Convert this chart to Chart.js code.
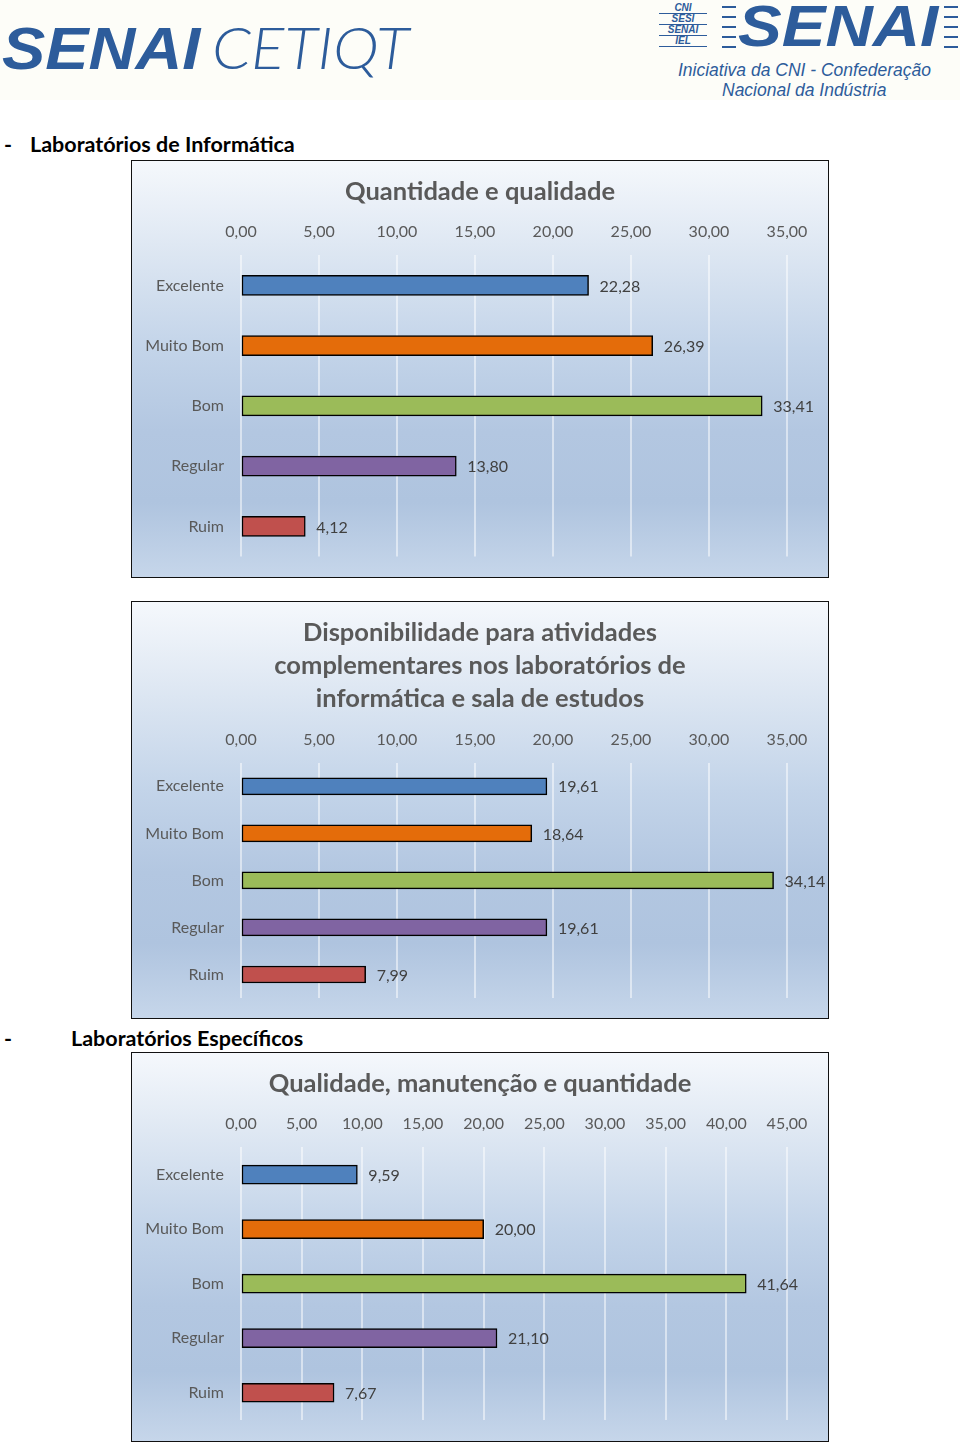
<!DOCTYPE html>
<html>
<head>
<meta charset="utf-8">
<script src="https://cdn.jsdelivr.net/npm/chart.js@4.4.1/dist/chart.umd.min.js"></script>
<style>
  html, body { margin:0; padding:0; background:#ffffff; }
  body { width:960px; height:1443px; position:relative; overflow:hidden; font-family: Lato, "Open Sans", sans-serif; }
  .abs { position:absolute; white-space:nowrap; }
  .header { position:absolute; left:0; top:0; width:960px; height:100px; background:#fdfdf8; }
  .logo { color:#2d5c9b; font-family:"Liberation Sans", Arial, sans-serif; }
  .panel { position:absolute; left:131px; width:698px; box-sizing:border-box; border:1.5px solid #111;
    background: linear-gradient(to bottom, #f5f8fc 0%, #dfe8f3 20%, #c3d4e9 45%, #b3c7e1 65%, #afc4df 82%, #c6d6ea 100%); }
  .panel canvas { display:block; }
  .heading { font-family: Lato, "Open Sans", sans-serif; font-weight:700; font-size:21.5px; color:#000; line-height:24px; }
</style>
</head>
<body>
<div class="header"></div>
<!-- Left logo -->
<div class="abs logo" style="left:2px; top:20px; font-size:59px; line-height:59px; font-weight:700; font-style:italic; transform:scaleX(1.1); transform-origin:left top;">SENAI</div>
<div class="abs logo" style="left:212px; top:18px; font-size:58px; line-height:58px; font-weight:300; font-style:italic; font-family:Lato, sans-serif; transform:scaleX(1.07); transform-origin:left top;">CETIQT</div>
<!-- Right logo -->
<div class="abs logo" style="left:659px; top:3px; width:48px; font-size:10px; line-height:10px; font-weight:700; font-style:italic; text-align:center;">
  <div style="border-bottom:1.5px solid #2d5c9b;">CNI</div>
  <div style="border-bottom:1.5px solid #2d5c9b;">SESI</div>
  <div style="border-bottom:1.5px solid #2d5c9b;">SENAI</div>
  <div style="border-bottom:1.5px solid #2d5c9b;">IEL</div>
</div>
<div class="abs" style="left:722px; top:6px; width:14px; height:42px; background:repeating-linear-gradient(to bottom, #2d5c9b 0 2px, transparent 2px 10px);"></div>
<div class="abs" style="left:944px; top:6px; width:14px; height:42px; background:repeating-linear-gradient(to bottom, #2d5c9b 0 2px, transparent 2px 10px);"></div>
<div class="abs logo" style="left:738px; top:-2px; font-size:57px; line-height:57px; font-weight:700; font-style:italic; transform:scaleX(1.15); transform-origin:left top;">SENAI</div>
<div class="abs logo" style="left:678px; top:60px; font-size:17.5px; line-height:20px; font-style:italic;">Iniciativa da CNI - Confederação</div>
<div class="abs logo" style="left:722px; top:80px; font-size:17.5px; line-height:20px; font-style:italic;">Nacional da Indústria</div>

<!-- Section headings -->
<div class="abs heading" style="left:4px; top:132px;">-</div>
<div class="abs heading" style="left:30px; top:132px;">Laboratórios de Informática</div>
<div class="abs heading" style="left:4px; top:1026px;">-</div>
<div class="abs heading" style="left:71px; top:1026px;">Laboratórios Específicos</div>

<div class="panel" style="top:160px; height:418px;"><canvas id="c1"></canvas></div>
<div class="panel" style="top:601px; height:418px;"><canvas id="c2"></canvas></div>
<div class="panel" style="top:1052px; height:390px;"><canvas id="c3"></canvas></div>

<script>
// ---- Data ----
const categories = ['Excelente', 'Muito Bom', 'Bom', 'Regular', 'Ruim'];
const qualidadeValues = [22.28, 26.39, 33.41, 13.80, 4.12];
const disponibilidadeValues = [19.61, 18.64, 34.14, 19.61, 7.99];
const especificosValues = [9.59, 20.00, 41.64, 21.10, 7.67];
const title1 = 'Quantidade e qualidade';
const title2 = ['Disponibilidade para atividades', 'complementares nos laboratórios de', 'informática e sala de estudos'];
const title3 = 'Qualidade, manutenção e quantidade';
const axisMax1 = 35, axisMax2 = 35, axisMax3 = 45;
const axisStep = 5;
const barColors = ['#4f81bd', '#e46c0a', '#9bbb59', '#8064a2', '#c0504d'];

const fmt = v => Number(v).toFixed(2).replace('.', ',');
Chart.defaults.font.family = 'Lato, "Open Sans", sans-serif';

const valueLabels = {
  id: 'valueLabels',
  afterDatasetsDraw(chart) {
    const ctx = chart.ctx;
    ctx.save();
    ctx.font = '16px Lato, "Open Sans", sans-serif';
    ctx.fillStyle = '#404040';
    ctx.textAlign = 'left';
    ctx.textBaseline = 'middle';
    chart.data.datasets.forEach((ds, di) => {
      chart.getDatasetMeta(di).data.forEach((el, i) => {
        ctx.fillText(fmt(ds.data[i]), el.x + 11, el.y + 1);
      });
    });
    ctx.restore();
  }
};

function makeChart(id, values, title, max, thickness, titleBottom, layoutBottom) {
  return new Chart(document.getElementById(id), {
    type: 'bar',
    data: {
      labels: categories,
      datasets: [{
        data: values,
        backgroundColor: barColors,
        borderColor: '#000000',
        borderWidth: 1.5,
        borderSkipped: false,
        barThickness: thickness
      }]
    },
    options: {
      indexAxis: 'y',
      responsive: true,
      maintainAspectRatio: false,
      animation: false,
      layout: { padding: { left: 0, right: 0, top: 0, bottom: layoutBottom } },
      plugins: {
        legend: { display: false },
        tooltip: { enabled: false },
        title: {
          display: true,
          text: title,
          color: '#595959',
          font: { size: 25.5, weight: 'bold', lineHeight: 1.294 },
          padding: { top: 14.5, bottom: titleBottom }
        }
      },
      scales: {
        x: {
          position: 'top',
          min: 0,
          max: max,
          ticks: { stepSize: axisStep, padding: 13.4, color: '#595959', font: { size: 16 }, callback: v => fmt(v) },
          grid: { color: 'rgba(255,255,255,0.5)', lineWidth: 2, drawTicks: false },
          border: { display: false },
          afterFit(scale) { scale.paddingLeft = 0; scale.paddingRight = 0; }
        },
        y: {
          ticks: { padding: 17, color: '#595959', font: { size: 16 } },
          grid: { display: false, drawTicks: false },
          border: { display: false },
          afterFit(scale) { scale.width = 109; scale.paddingTop = 0; scale.paddingBottom = 0; }
        },
        yRight: {
          position: 'right',
          display: true,
          ticks: { display: false },
          grid: { display: false, drawTicks: false },
          border: { display: false },
          afterFit(scale) { scale.width = 41; scale.paddingTop = 0; scale.paddingBottom = 0; }
        }
      }
    },
    plugins: [valueLabels]
  });
}

makeChart('c1', qualidadeValues, title1, axisMax1, 20, 0.8, 20.5);
makeChart('c2', disponibilidadeValues, title2, axisMax2, 17, 1.3, 20);
makeChart('c3', especificosValues, title3, axisMax3, 19, 0.8, 21);
</script>
</body>
</html>
